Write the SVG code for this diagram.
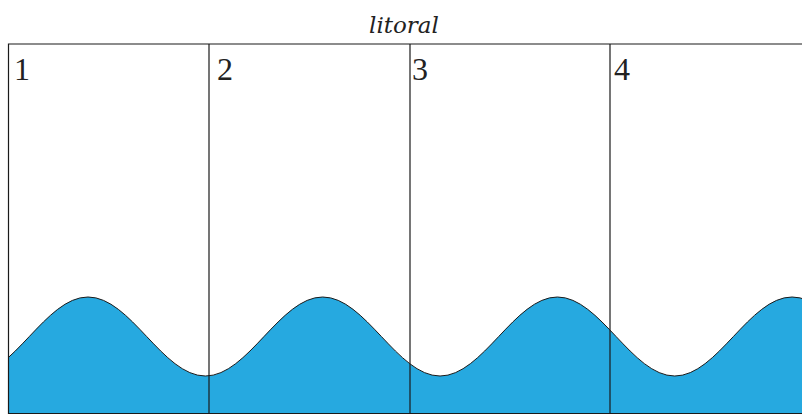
<svg xmlns="http://www.w3.org/2000/svg" width="802" height="416" viewBox="0 0 802 416">
  <style>
    .frame { fill: none; stroke: #1a1a1a; stroke-width: 1.2; }
    .water { fill: #26a9e0; stroke: none; }
    .crest { fill: none; stroke: #1a1a1a; stroke-width: 1; }
    .title { font-family: "DejaVu Serif", "Liberation Serif", serif; font-style: italic; font-size: 23px; fill: #222; }
    .num { font-family: "Liberation Serif", "DejaVu Serif", serif; font-size: 32px; fill: #222; }
  </style>
  <defs>
    <clipPath id="panel">
      <rect x="8" y="44" width="794" height="370"/>
    </clipPath>
  </defs>
  <rect width="802" height="416" fill="#ffffff"/>
  <g id="title"><text class="title" x="404" y="33" text-anchor="middle">litoral</text></g>
  <g id="wave" clip-path="url(#panel)">
    <path class="water" d="M -29.35 376 C 13.35 376, 45.3 297, 88 297 C 130.7 297, 162.65 376, 205.35 376 C 248.05 376, 280 297, 322.7 297 C 365.4 297, 397.35 376, 440.05 376 C 482.75 376, 514.7 297, 557.4 297 C 600.1 297, 632.05 376, 674.75 376 C 717.45 376, 749.4 297, 792.1 297 C 834.8 297, 866.75 376, 909.45 376 L 909.45 420 L -29.35 420 Z"/>
    <path class="crest" d="M -29.35 376 C 13.35 376, 45.3 297, 88 297 C 130.7 297, 162.65 376, 205.35 376 C 248.05 376, 280 297, 322.7 297 C 365.4 297, 397.35 376, 440.05 376 C 482.75 376, 514.7 297, 557.4 297 C 600.1 297, 632.05 376, 674.75 376 C 717.45 376, 749.4 297, 792.1 297 C 834.8 297, 866.75 376, 909.45 376"/>
  </g>
  <g id="frame">
    <path class="frame" d="M 802 44 L 8.5 44 L 8.5 413.5 L 802 413.5"/>
    <line class="frame" x1="209" y1="44" x2="209" y2="413.5"/>
    <line class="frame" x1="410" y1="44" x2="410" y2="413.5"/>
    <line class="frame" x1="610" y1="44" x2="610" y2="413.5"/>
  </g>
  <g id="panel-1"><text class="num" x="14" y="80">1</text></g>
  <g id="panel-2"><text class="num" x="217" y="80">2</text></g>
  <g id="panel-3"><text class="num" x="412" y="80">3</text></g>
  <g id="panel-4"><text class="num" x="614" y="80">4</text></g>
</svg>
